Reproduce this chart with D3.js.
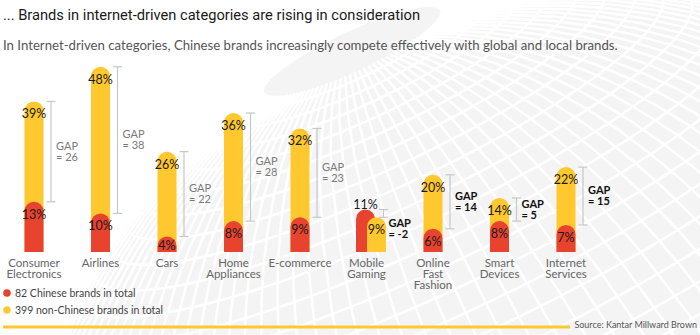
<!DOCTYPE html>
<html>
<head>
<meta charset="utf-8">
<script src="https://cdn.jsdelivr.net/npm/d3@7"></script>
<style>
  html, body { margin: 0; padding: 0; background: #fff; }
  svg { display: block; font-family: Lato, "Open Sans", sans-serif; }
</style>
</head>
<body>
<svg id="chart"></svg>
<script>
const categories = ["Consumer Electronics", "Airlines", "Cars", "Home Appliances", "E-commerce",
  "Mobile Gaming", "Online Fast Fashion", "Smart Devices", "Internet Services"];
const categoryLines = [["Consumer", "Electronics"], ["Airlines"], ["Cars"], ["Home", "Appliances"],
  ["E-commerce"], ["Mobile", "Gaming"], ["Online", "Fast", "Fashion"], ["Smart", "Devices"], ["Internet", "Services"]];
const chineseShare = [13, 10, 4, 8, 9, 11, 6, 8, 7];
const nonChineseShare = [39, 48, 26, 36, 32, 9, 20, 14, 22];
const gapLabels = [26, 38, 22, 28, 23, -2, 14, 5, 15];
const internetDriven = [false, false, false, false, false, true, true, true, true];
const legendLabels = ["82 Chinese brands in total", "399 non-Chinese brands in total"];

const width = 700, height = 335;
const RED = '#e8432f', YELLOW = '#ffc82e';

const svg = d3.select('#chart')
  .attr('width', width)
  .attr('height', height);

// faint globe in the background
const bg = svg.append('g');
const projection = d3.geoOrthographic()
  .scale(560)
  .translate([580, 540])
  .rotate([20, -12, 25]);
const geoPath = d3.geoPath(projection);
bg.append('path')
  .datum({ type: 'Sphere' })
  .attr('d', geoPath)
  .attr('fill', '#f4f4f4');
bg.append('path')
  .datum(d3.geoGraticule().step([3, 3]).extent([[-180, -80], [180, 80]])())
  .attr('d', geoPath)
  .attr('fill', 'none')
  .attr('stroke', '#fff')
  .attr('stroke-width', 2.5);

// title + subtitle
svg.append('text')
  .attr('x', 3).attr('y', 20)
  .attr('font-family', 'Roboto, sans-serif')
  .attr('font-size', 15.5)
  .attr('fill', '#1a1a1a')
  .attr('textLength', 417)
  .attr('lengthAdjust', 'spacingAndGlyphs')
  .text('... Brands in internet-driven categories are rising in consideration');

svg.append('text')
  .attr('x', 3).attr('y', 50)
  .attr('font-size', 13.2)
  .attr('fill', '#555')
  .text('In Internet-driven categories, Chinese brands increasingly compete effectively with global and local brands.');

const x = d3.scalePoint()
  .domain(categories)
  .range([34, 566]);

const y = d3.scaleLinear()
  .domain([0, 50])
  .range([252, 59]);

const barW = 19;

// bar with a fully rounded top
function barPath(cx, v) {
  const r = barW / 2, top = y(v), base = y(0);
  return `M${cx - r},${base} V${top + r} A${r},${r} 0 0 1 ${cx + r},${top + r} V${base} Z`;
}

const data = categories.map((c, i) => ({
  cat: c,
  lines: categoryLines[i],
  cn: chineseShare[i],
  non: nonChineseShare[i],
  gap: gapLabels[i],
  bold: internetDriven[i]
}));

const g = svg.append('g');

const groups = g.selectAll('g.cat')
  .data(data)
  .enter()
  .append('g')
  .attr('class', 'cat');

groups.each(function (d) {
  const grp = d3.select(this);
  const cx = x(d.cat);
  // when the non-Chinese bar is shorter it sits beside the red one, in front
  const behind = d.non < d.cn;
  const cxNon = behind ? cx + 10 : cx;
  const cxCn = cx - (behind ? 1 : 0);

  if (!behind) {
    grp.append('path').attr('d', barPath(cxNon, d.non)).attr('fill', YELLOW);
    grp.append('path').attr('d', barPath(cxCn, d.cn)).attr('fill', RED);
  } else {
    grp.append('path').attr('d', barPath(cxCn, d.cn)).attr('fill', RED);
    grp.append('path').attr('d', barPath(cxNon, d.non)).attr('fill', YELLOW);
  }

  const labelY = v => Math.min(y(v) + 17, y(0) - 2);
  grp.append('text')
    .attr('x', cxNon).attr('y', labelY(d.non))
    .attr('text-anchor', 'middle')
    .attr('font-size', 12.5).attr('fill', '#1a1a1a')
    .text(d.non + '%');
  grp.append('text')
    .attr('x', cxCn).attr('y', behind ? y(d.cn) - 1 : labelY(d.cn))
    .attr('text-anchor', 'middle')
    .attr('font-size', 12.5).attr('fill', '#1a1a1a')
    .text(d.cn + '%');

  // gap bracket
  const bx = cx + 17;
  const yA = y(Math.max(d.non, d.cn)), yB = y(Math.min(d.non, d.cn));
  const bracket = grp.append('g')
    .attr('stroke', '#c3c8cc')
    .attr('stroke-width', 1.2);
  bracket.append('line').attr('x1', bx).attr('x2', bx).attr('y1', yA).attr('y2', yB);
  bracket.append('line').attr('x1', bx - 4.5).attr('x2', bx + 4.5).attr('y1', yA).attr('y2', yA);
  bracket.append('line').attr('x1', bx - 4.5).attr('x2', bx + 4.5).attr('y1', yB).attr('y2', yB);

  // short brackets get their label underneath
  const ty = (yB - yA) < 20 ? yB + 10 : (yA + yB) / 2 - 2;
  const gapText = grp.append('text')
    .attr('x', cx + 22)
    .attr('font-size', 11)
    .attr('font-weight', d.bold ? 'bold' : 'normal')
    .attr('fill', d.bold ? '#111' : '#7a7a7a');
  gapText.append('tspan').attr('x', cx + 22).attr('y', ty).text('GAP');
  gapText.append('tspan').attr('x', cx + 22).attr('y', ty + 11).text('= ' + d.gap);

  // category name under the bars
  const cat = grp.append('text')
    .attr('text-anchor', 'middle')
    .attr('font-size', 11.5)
    .attr('fill', '#666');
  d.lines.forEach((l, k) => {
    cat.append('tspan').attr('x', cx).attr('y', 267 + k * 11).text(l);
  });
});

// legend
const legend = svg.append('g');
[RED, YELLOW].forEach((c, i) => {
  legend.append('circle')
    .attr('cx', 7).attr('cy', 293 + i * 17)
    .attr('r', 3.8)
    .attr('fill', c);
  legend.append('text')
    .attr('x', 15).attr('y', 296.5 + i * 17)
    .attr('font-size', 10.5)
    .attr('fill', '#444')
    .text(legendLabels[i]);
});

// footer rule + source
svg.append('line')
  .attr('x1', 3).attr('x2', 570)
  .attr('y1', 327).attr('y2', 327)
  .attr('stroke', YELLOW)
  .attr('stroke-width', 3);
svg.append('text')
  .attr('x', 697).attr('y', 328)
  .attr('text-anchor', 'end')
  .attr('font-size', 9)
  .attr('fill', '#555')
  .text('Source: Kantar Millward Brown');
</script>
</body>
</html>
